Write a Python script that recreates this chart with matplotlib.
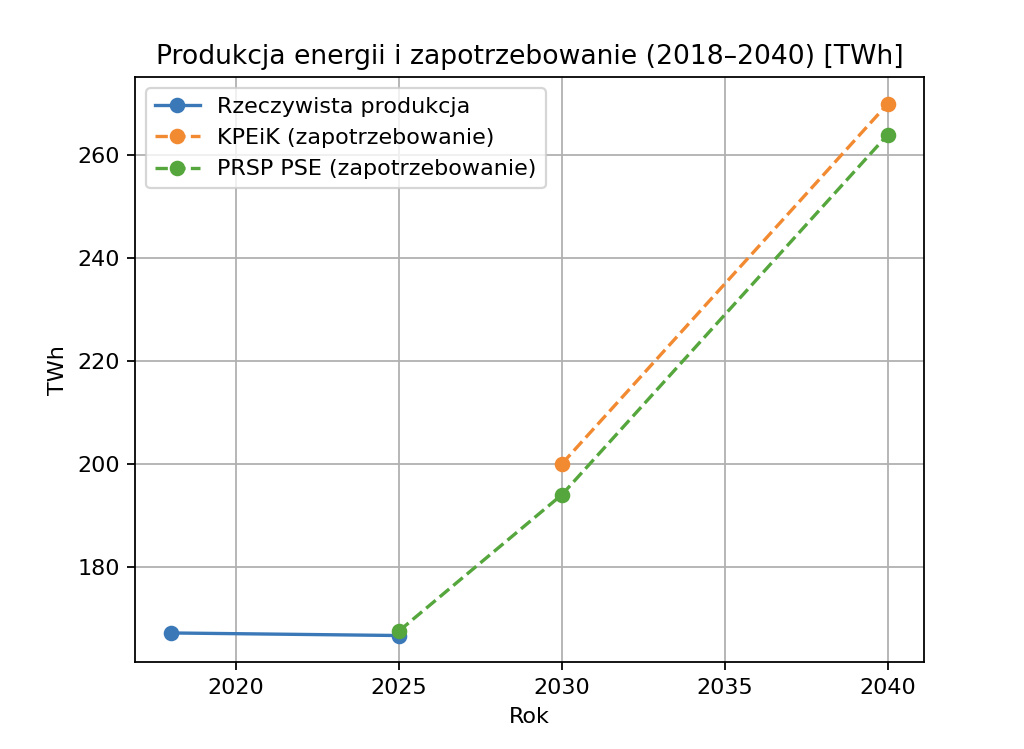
import matplotlib.pyplot as plt

# dane
lata_prod = [2018, 2025]
produkcja = [167.1, 166.6]

lata_kpeik = [2030, 2040]
kpeik = [200, 270]

lata_pse = [2025, 2030, 2040]
pse = [167.5, 194, 264]

fig = plt.figure(figsize=(6.4, 4.68125), dpi=160)
ax = fig.add_axes([0.132, 0.116, 0.770, 0.781])

ax.plot(lata_prod, produkcja, marker='o', color='#3a78b8', label='Rzeczywista produkcja')
ax.plot(lata_kpeik, kpeik, marker='o', linestyle='--', color='#f28a32',
        label='KPEiK (zapotrzebowanie)')
ax.plot(lata_pse, pse, marker='o', linestyle='--', color='#55a63c',
        label='PRSP PSE (zapotrzebowanie)')

ax.set_title('Produkcja energii i zapotrzebowanie (2018–2040) [TWh]')
ax.set_xlabel('Rok')
ax.set_ylabel('TWh')
ax.set_xticks([2020, 2025, 2030, 2035, 2040])
ax.grid(True)
ax.legend(loc='upper left')

fig.savefig('out.png')
